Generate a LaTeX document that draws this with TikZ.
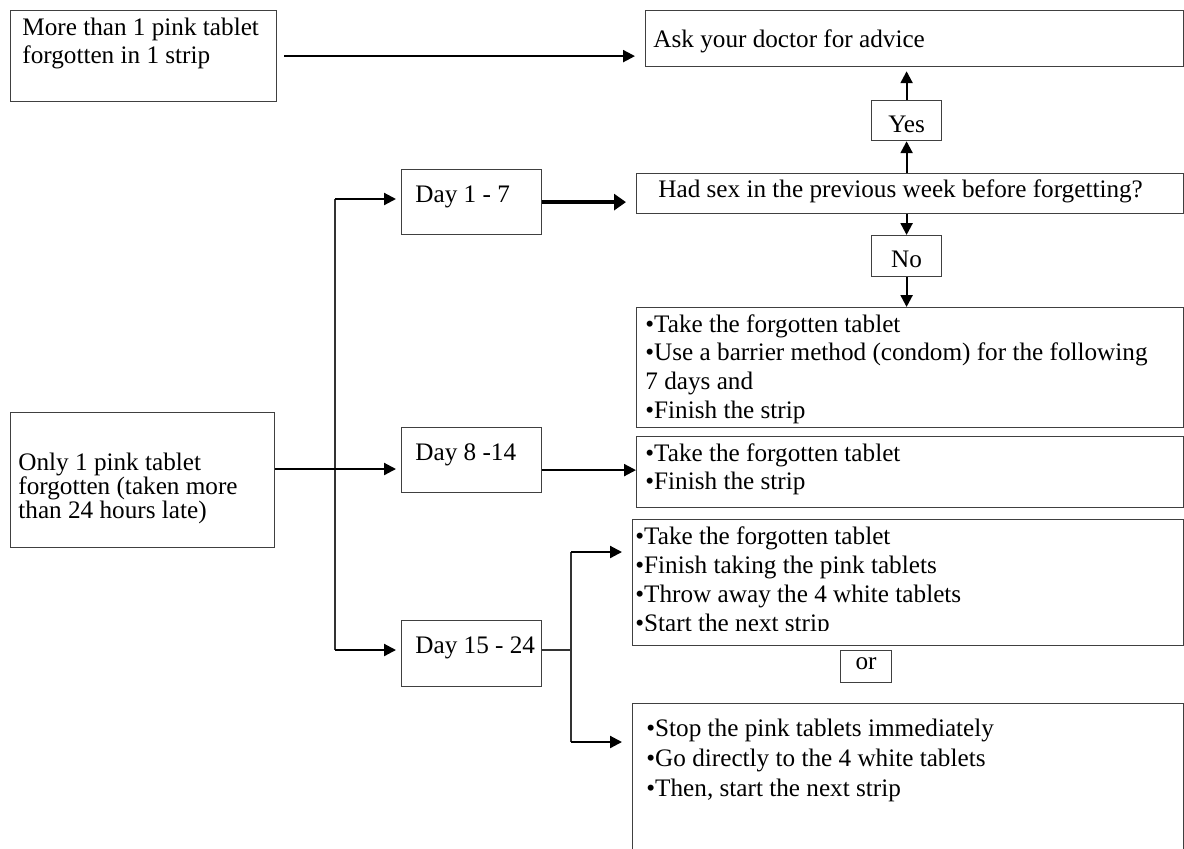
\documentclass[tikz,border=0pt]{standalone}
\usepackage{fontspec}
\setmainfont{Liberation Serif}
\usetikzlibrary{arrows.meta}
\usetikzlibrary{calc}

\def\pu{0.5pt}

\begin{document}
\begin{tikzpicture}[x=0.5pt, y=-0.5pt, font=\fontsize{12.6}{14}\selectfont,
	box/.style={draw=black!75, line width=0.6pt, rectangle, inner sep=0pt, anchor=north west},
	txt/.style={anchor=north west, align=left, inner sep=0pt},
	lines/.style={font=\fontsize{12.6}{#1}\selectfont},
	link/.style={draw=black!80, line width=0.6pt},
	arr/.style={line width=1.1pt, -{Triangle[length=6pt, width=6pt]}},
	bigarr/.style={line width=2pt, -{Triangle[length=6pt, width=8pt]}}]

	 % Fix the page to the size of the picture
	 \useasboundingbox (0,0) rectangle (1184,848);
	 \clip (0,0) rectangle (1184,848);

	 % Left column
	 \node[box, minimum width=266*\pu, minimum height=91*\pu,
	 	label={[txt, lines=14pt, xshift=12*\pu, yshift=-8*\pu]north west:{More than 1 pink tablet\\forgotten in 1 strip}}] (more) at (10,10) {};
	 \node[box, minimum width=264*\pu, minimum height=135*\pu,
	 	label={[txt, lines=11.8pt, xshift=8*\pu, yshift=-41*\pu]north west:{Only 1 pink tablet\\forgotten (taken more\\than 24 hours late)}}] (only) at (10,412) {};

	 % Day boxes
	 \node[box, minimum width=140*\pu, minimum height=65*\pu,
	 	label={[txt, xshift=14*\pu, yshift=-16*\pu]north west:{Day 1 - 7}}] (day17) at (401,169) {};
	 \node[box, minimum width=140*\pu, minimum height=65*\pu,
	 	label={[txt, xshift=14*\pu, yshift=-16*\pu]north west:{Day 8 -14}}] (day814) at (401,427) {};
	 \node[box, minimum width=140*\pu, minimum height=66*\pu,
	 	label={[txt, xshift=14*\pu, yshift=-16*\pu]north west:{Day 15 - 24}}] (day1524) at (401,620) {};

	 % Right column
	 \node[box, minimum width=538*\pu, minimum height=56*\pu,
	 	label={[txt, xshift=8*\pu, yshift=-19*\pu]north west:{Ask your doctor for advice}}] (ask) at (645,10) {};
	 \node[box, minimum width=70*\pu, minimum height=40*\pu] (yes) at (871,100) {\raisebox{-1.8pt}[\height][\depth]{Yes}};
	 \node[box, minimum width=547*\pu, minimum height=40*\pu,
	 	label={[txt, xshift=22*\pu, yshift=-6*\pu]north west:{Had sex in the previous week before forgetting?}}] (hadsex) at (636,173) {};
	 \node[box, minimum width=70*\pu, minimum height=41*\pu] (no) at (871,235) {\raisebox{-1.5pt}[\height][\depth]{No}};
	 \node[box, minimum width=547*\pu, minimum height=120*\pu,
	 	label={[txt, lines=14.35pt, xshift=9*\pu, yshift=-7*\pu]north west:{•Take the forgotten tablet\\•Use a barrier method (condom) for the following\\7 days and\\•Finish the strip}}] (take1) at (636,307) {};
	 \node[box, minimum width=547*\pu, minimum height=71*\pu,
	 	label={[txt, lines=14pt, xshift=9*\pu, yshift=-7*\pu]north west:{•Take the forgotten tablet\\•Finish the strip}}] (take2) at (636,436) {};
	 \node[box, minimum width=551*\pu, minimum height=126*\pu] (take3) at (632,519) {};
	 \begin{scope}
	 	\clip (632,519) rectangle (1183,630);
	 	\node[txt, lines=14.5pt] (take3t) at (635,526) {•Take the forgotten tablet\\•Finish taking the pink tablets\\•Throw away the 4 white tablets\\•Start the next strip};
	 \end{scope}
	 \node[box, minimum width=51*\pu, minimum height=32*\pu] (or) at (840,650) {\raisebox{1.5pt}[\height][\depth]{or}};
	 \node[box, minimum width=551*\pu, minimum height=200*\pu,
	 	label={[txt, lines=15pt, xshift=14*\pu, yshift=-16*\pu]north west:{•Stop the pink tablets immediately\\•Go directly to the 4 white tablets\\•Then, start the next strip}}] (stop) at (632,703) {};

	 % Branching from the left box
	 \coordinate (top) at (335,199);
	 \coordinate (mid) at (335,469);
	 \coordinate (bot) at (335,650);
	 \draw[link] (top) -- (bot);
	 \draw[arr, shorten >=2.5pt] (top) -- (top -| day17.west);
	 \draw[arr, shorten >=2.5pt] (only.east |- mid) -- (mid -| day814.west);
	 \draw[arr, shorten >=2.5pt] (bot) -- (bot -| day1524.west);

	 % Arrows to the right column
	 \draw[arr, shorten <=3.5pt, shorten >=5pt] (more.east) -- (more.east -| ask.west);
	 \draw[bigarr, shorten >=5pt] (day17.east) -- (day17.east -| hadsex.west);
	 \coordinate (m14) at ([yshift=-5pt]day814.east);
	 \draw[arr] (m14) -- (m14 -| take2.west);

	 % Yes / No
	 \draw[arr] (yes.south |- hadsex.north) -- (yes.south);
	 \draw[arr, shorten >=2pt] (yes.north) -- (yes.north |- ask.south);
	 \draw[arr] (no.north |- hadsex.south) -- (no.north);
	 \draw[arr] (no.south) -- (no.south |- take1.north);

	 % Day 15 - 24 fork
	 \coordinate (fork) at (571,650);
	 \coordinate (f1) at (571,552);
	 \coordinate (f2) at (571,742);
	 \draw[link] (day1524.east |- fork) -- (fork);
	 \draw[link] (f1) -- (f2);
	 \draw[arr, shorten >=5pt] (f1) -- (f1 -| take3.west);
	 \draw[arr, shorten >=5pt] (f2) -- (f2 -| stop.west);
\end{tikzpicture}
\end{document}
